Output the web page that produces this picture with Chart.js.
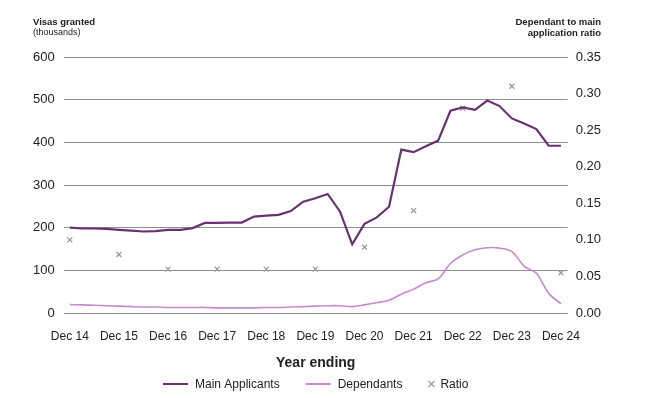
<!DOCTYPE html>
<html>
<head>
<meta charset="utf-8">
<script src="https://cdn.jsdelivr.net/npm/chart.js@4"></script>
<style>
html, body { margin: 0; padding: 0; background: #fff; }
#wrap { width: 662px; height: 398px; }
</style>
</head>
<body>
<div id="wrap"><canvas id="visaChart" width="662" height="398"></canvas></div>
<script>

// ================= DATA =================

const yearLabels = ["Dec 14", "Dec 15", "Dec 16", "Dec 17", "Dec 18", "Dec 19",
  "Dec 20", "Dec 21", "Dec 22", "Dec 23", "Dec 24"];

// quarterly, year ending Dec 14 .. Dec 24 (thousands)
const mainApplicants = [200, 198, 198, 197, 195, 193, 191, 192, 195, 195,
  199, 211, 211, 212, 212, 226, 228, 230, 239, 261,
  269, 279, 238, 161, 209, 224, 249, 383, 377, 391,
  404, 474, 482, 476, 498, 485, 456, 444, 431, 392, 392];

const dependants = [20, 19, 18, 17, 16, 15, 14, 14, 13, 13,
  13, 13, 12, 12, 12, 12, 13, 13, 14, 15,
  16, 17, 17, 15, 19, 24, 30, 44, 56, 71,
  80, 116, 136, 148, 153, 152, 144, 110, 93, 46, 22];

// one value per year ending December
const ratio = [0.10, 0.08, 0.06, 0.06, 0.06, 0.06, 0.09, 0.14, 0.28, 0.31, 0.055];

const leftTicks = [0, 100, 200, 300, 400, 500, 600];
const rightTicks = [0, 0.05, 0.10, 0.15, 0.20, 0.25, 0.30, 0.35];


const MAIN_COLOR = "#67326f";
const DEP_COLOR = "#c68ad0";
const RATIO_COLOR = "#9b9b9b";
const TEXT = "#222222";
const FONT = "'Liberation Sans', Arial, sans-serif";


// ================= PLUGINS =================

// axis captions above the two y axes, and the x axis title
const axisCaptions = {
  id: "axisCaptions",
  afterDraw(chart) {
    const ctx = chart.ctx;
    const area = chart.chartArea;
    ctx.save();
    ctx.fillStyle = TEXT;
    ctx.textBaseline = "middle";
    ctx.textAlign = "left";
    ctx.font = "bold 9.5px " + FONT;
    ctx.fillText("Visas granted", 33, 22);
    ctx.font = "9px " + FONT;
    ctx.fillText("(thousands)", 33, 33);
    ctx.textAlign = "right";
    ctx.font = "bold 9.5px " + FONT;
    ctx.fillText("Dependant to main", 601, 22);
    ctx.fillText("application ratio", 601, 33);
    ctx.textAlign = "center";
    ctx.font = "bold 14px " + FONT;
    ctx.fillText("Year ending", (area.left + area.right) / 2, 363);
    ctx.restore();
  }
};

// legend row under the axis title
const bottomLegend = {
  id: "bottomLegend",
  afterDraw(chart) {
    const ctx = chart.ctx;
    const area = chart.chartArea;
    const y = 384;
    ctx.save();
    ctx.font = "12px " + FONT;
    ctx.textBaseline = "middle";
    ctx.textAlign = "left";

    const items = chart.data.datasets.map(ds => ({
      text: ds.label,
      line: ds.showLine !== false,
      color: ds.borderColor,
      sw: ds.showLine !== false ? 25 : 6,
      gap: ds.showLine !== false ? 7 : 6
    }));

    let total = 0;
    items.forEach((it, i) => {
      it.tw = ctx.measureText(it.text).width;
      total += it.sw + it.gap + it.tw + (i ? 26 : 0);
    });

    let x = (area.left + area.right) / 2 - total / 2;
    items.forEach(it => {
      ctx.strokeStyle = it.color;
      if (it.line) {
        ctx.lineWidth = 2;
        ctx.beginPath();
        ctx.moveTo(x, y);
        ctx.lineTo(x + it.sw, y);
        ctx.stroke();
      } else {
        ctx.lineWidth = 1.2;
        ctx.beginPath();
        ctx.moveTo(x, y - 3);
        ctx.lineTo(x + 6, y + 3);
        ctx.moveTo(x, y + 3);
        ctx.lineTo(x + 6, y - 3);
        ctx.stroke();
      }
      x += it.sw + it.gap;
      ctx.fillStyle = TEXT;
      ctx.fillText(it.text, x, y + 0.5);
      x += it.tw + 26;
    });
    ctx.restore();
  }
};


// ================= CHART =================

const visaChart = document.getElementById("visaChart");

new Chart(visaChart, {

  type: "line",

  data: {

    datasets: [{
      label: "Main Applicants",
      data: mainApplicants.map((v, i) => ({ x: i, y: v })),
      borderColor: MAIN_COLOR,
      borderWidth: 2.2,
      pointRadius: 0,
      tension: 0,
      yAxisID: "y"
    }, {
      label: "Dependants",
      data: dependants.map((v, i) => ({ x: i, y: v })),
      borderColor: DEP_COLOR,
      borderWidth: 1.6,
      pointRadius: 0,
      tension: 0.35,
      yAxisID: "y"
    }, {
      label: "Ratio",
      data: ratio.map((v, i) => ({ x: i * 4, y: v })),
      showLine: false,
      borderColor: RATIO_COLOR,
      backgroundColor: RATIO_COLOR,
      pointStyle: "crossRot",
      pointRadius: 3.5,
      pointBorderWidth: 1.3,
      yAxisID: "y1"
    }]

  },

  options: {

    responsive: false,
    animation: false,
    events: [],

    layout: {
      autoPadding: false,
      padding: { top: 57, left: 24, right: 53, bottom: 38.6 }
    },

    plugins: {
      legend: { display: false },
      tooltip: { enabled: false }
    },

    scales: {

      x: {
        type: "linear",
        min: -0.5,
        max: 40.55,
        afterBuildTicks(axis) {
          axis.ticks = yearLabels.map((l, i) => ({ value: i * 4 }));
        },
        grid: { display: false, drawTicks: false },
        border: { display: false },
        ticks: {
          padding: 16,
          maxRotation: 0,
          autoSkip: false,
          color: TEXT,
          font: { family: FONT, size: 12 },
          callback: (v) => yearLabels[v / 4]
        }
      },

      y: {
        position: "left",
        min: 0,
        max: 600,
        afterBuildTicks(axis) {
          axis.ticks = leftTicks.map(v => ({ value: v }));
        },
        grid: { color: "#8f8f8f", lineWidth: 1, drawTicks: false },
        border: { display: false },
        ticks: {
          padding: 9,
          color: TEXT,
          font: { family: FONT, size: 13 }
        }
      },

      y1: {
        position: "right",
        min: 0,
        max: 0.35,
        afterBuildTicks(axis) {
          axis.ticks = rightTicks.map(v => ({ value: v }));
        },
        grid: { display: false, drawTicks: false },
        border: { display: false },
        ticks: {
          padding: 8,
          color: TEXT,
          font: { family: FONT, size: 13 },
          callback: (v) => v.toFixed(2)
        }
      }

    }

  },

  plugins: [axisCaptions, bottomLegend]

});

</script>
</body>
</html>
